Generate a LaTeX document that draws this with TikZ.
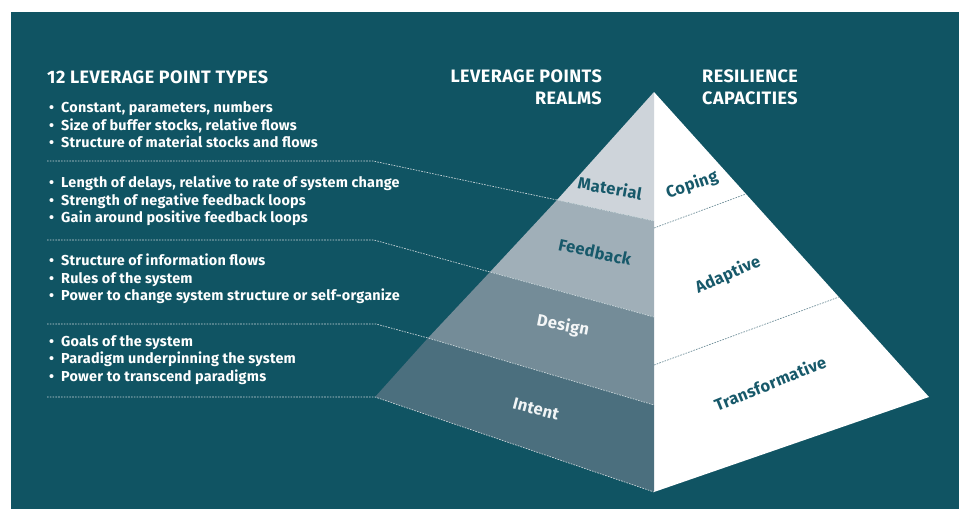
\documentclass[tikz,border=0pt]{standalone}
\usepackage{fontspec}
\setmainfont{Fira Sans}
\usetikzlibrary{calc}
\definecolor{bgteal}{HTML}{105463}
\definecolor{matfill}{HTML}{CED4DA}
\definecolor{feedfill}{HTML}{A0AFB8}
\definecolor{desfill}{HTML}{748C98}
\definecolor{intfill}{HTML}{4B6F7E}
\definecolor{labteal}{HTML}{17596A}
\definecolor{dashlight}{HTML}{C9D5D9}
\definecolor{dashdark}{HTML}{6F8E99}
\begin{document}
\begin{tikzpicture}[x=1pt,y=-1pt,
  leader/.style={draw=dashlight,line width=0.7pt,dash pattern=on 1.6pt off 1.2pt},
  capline/.style={draw=dashdark,line width=0.7pt,dash pattern=on 1.6pt off 1.2pt},
  heading/.style={text=white,font=\fontsize{18}{22}\selectfont\bfseries\addfontfeature{LetterSpace=2.5},inner sep=0pt},
  bullets/.style={text=white,font=\fontsize{14.4}{17.6}\selectfont\bfseries\addfontfeature{LetterSpace=1.5},align=left,inner sep=0pt,anchor=west},
  realm/.style={font=\fontsize{16.5}{18}\selectfont\bfseries\addfontfeature{LetterSpace=2},inner sep=0pt},
  capacity/.style={text=labteal,font=\fontsize{16.5}{18}\selectfont\bfseries\addfontfeature{LetterSpace=2},inner sep=0pt}]
\newcommand{\bul}{\makebox[12pt][l]{•}}
% canvas
\useasboundingbox (0,0) rectangle (959,509);
\fill[white] (0,0) rectangle (959,509);
\fill[bgteal] (11,12) rectangle (959,509);

% pyramid corners
\coordinate (apex) at (654,92);
\coordinate (lc) at (375,397);
\coordinate (bc) at (654,492);
\coordinate (rc) at (929,397);
% realm boundaries: left edge / central edge
\coordinate (m1) at (557,200); \coordinate (m2) at (654,221);
\coordinate (f1) at (490,272); \coordinate (f2) at (654,317);
\coordinate (d1) at (428,338); \coordinate (d2) at (654,405);
% capacity boundaries: central edge / right edge
\coordinate (c1) at (654,228); \coordinate (c2) at (746,194);
\coordinate (a1) at (654,365); \coordinate (a2) at (839,297);
% leader starts and bends
\coordinate (s1) at (47,161); \coordinate (k1) at (373,161);
\coordinate (s2) at (47,240); \coordinate (k2) at (374,240);
\coordinate (s3) at (47,324); \coordinate (k3) at (376,324);
\coordinate (s4) at (47,397);

% right face
\fill[white] (apex) -- (bc) -- (rc) -- cycle;
% left face bands
\fill[intfill] (d1) -- (lc) -- (bc) -- (d2) -- cycle;
\fill[desfill] (f1) -- (d1) -- (d2) -- (f2) -- cycle;
\fill[feedfill] (m1) -- (f1) -- (f2) -- (m2) -- cycle;
\fill[matfill] (apex) -- (m1) -- (m2) -- cycle;

% leader lines from the lists into the realms
\draw[leader] (s1) -- (k1) -- (m1) -- (m2);
\draw[leader] (s2) -- (k2) -- (f1) -- (f2);
\draw[leader] (s3) -- (k3) -- (d1) -- (d2);
\draw[leader] (s4) -- (lc) -- (bc);
% capacity dividers
\draw[capline] (c1) -- (c2);
\draw[capline] (a1) -- (a2);

% headings
\node[heading,anchor=base west] (hleft) at (47,83) {12 LEVERAGE POINT TYPES};
\node[heading,anchor=north east,align=right] (hmid) at (602,70) {LEVERAGE POINTS\\REALMS};
\node[heading,anchor=north west,align=left] (hright) at (702,70) {RESILIENCE\\CAPACITIES};

% lists of leverage points
\node[bullets] (g1) at (49,125) {\bul Constant, parameters, numbers\\\bul Size of buffer stocks, relative flows\\\bul Structure of material stocks and flows};
\node[bullets] (g2) at (49,201) {\bul Length of delays, relative to rate of system change\\\bul Strength of negative feedback loops\\\bul Gain around positive feedback loops};
\node[bullets] (g3) at (49,279) {\bul Structure of information flows\\\bul Rules of the system\\\bul Power to change system structure or self-organize};
\node[bullets] (g4) at (49,360) {\bul Goals of the system\\\bul Paradigm underpinning the system\\\bul Power to transcend paradigms};

% realm labels
\node[realm,text=labteal,rotate=-10] (lmat) at (610,188) {Material};
\node[realm,text=labteal,rotate=-12] (lfeed) at (595,252) {Feedback};
\node[realm,text=white!92!desfill,rotate=-11] (ldes) at (563,326) {Design};
\node[realm,text=white!92!intfill,rotate=-15] (lint) at (536,409) {Intent};

% capacity labels
\node[capacity,rotate=19] (lcop) at (692,185) {Coping};
\node[capacity,rotate=24] (ladp) at (728,275) {Adaptive};
\node[capacity,rotate=22] (ltra) at (770,383) {Transformative};
\end{tikzpicture}
\end{document}
